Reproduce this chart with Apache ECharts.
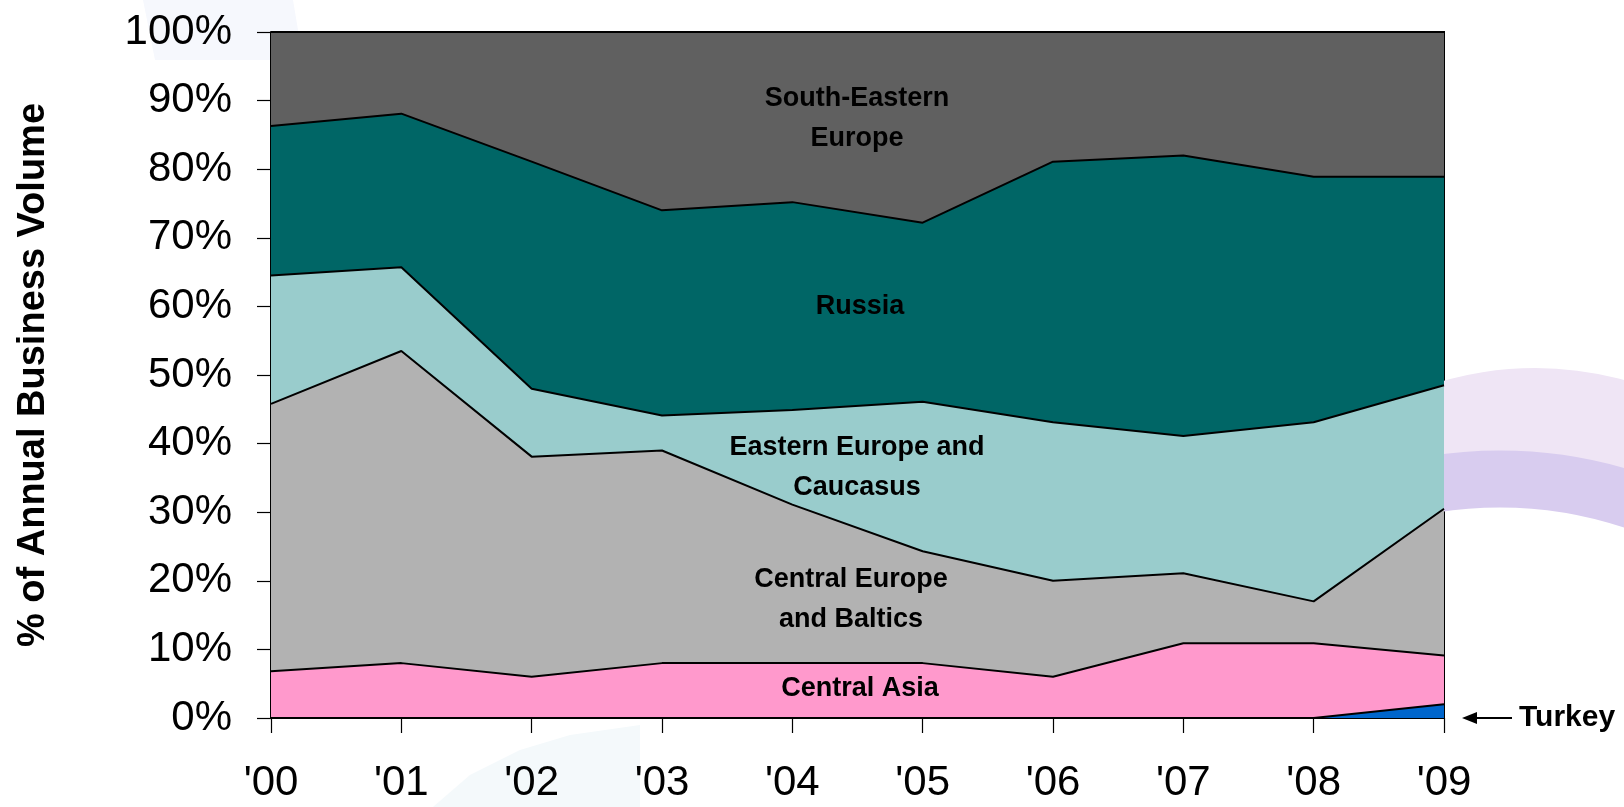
<!DOCTYPE html>
<html>
<head>
<meta charset="utf-8">
<script src="https://cdn.jsdelivr.net/npm/echarts@6/dist/echarts.min.js"></script>
<style>
  html, body { margin: 0; padding: 0; background: #fff; }
  #chart { width: 1624px; height: 807px; }
</style>
</head>
<body>
<div id="chart"></div>
<script>
// years on the x axis
const years = ["'00", "'01", "'02", "'03", "'04", "'05", "'06", "'07", "'08", "'09"];

// share of annual business volume per region, % (stacked bottom -> top)
const turkey       = [0, 0, 0, 0, 0, 0, 0, 0, 0, 2];
const centralAsia  = [6.8, 8.0, 6.0, 8.0, 8.0, 8.0, 6.0, 10.9, 10.9, 7.1];
const centralEurBal = [39.0, 45.5, 32.1, 31.0, 23.1, 16.3, 14.0, 10.2, 6.1, 21.4];
const easternEurCau = [18.7, 12.2, 9.9, 5.1, 13.8, 21.8, 23.1, 20.0, 26.1, 18.0];
const russia       = [21.8, 22.4, 33.1, 29.9, 30.3, 26.1, 38.0, 40.9, 35.8, 30.4];
const southEastEur = [13.7, 11.9, 18.9, 26.0, 24.8, 27.8, 18.9, 18.0, 21.1, 21.1];

const seriesDefs = [
  { name: 'Turkey', data: turkey, color: '#0066CC' },
  { name: 'Central Asia', data: centralAsia, color: '#FF99CC' },
  { name: 'Central Europe and Baltics', data: centralEurBal, color: '#B2B2B2' },
  { name: 'Eastern Europe and Caucasus', data: easternEurCau, color: '#99CCCC' },
  { name: 'Russia', data: russia, color: '#006666' },
  { name: 'South-Eastern Europe', data: southEastEur, color: '#606060' }
];

const chart = echarts.init(document.getElementById('chart'));

const labelFont = 'bold 27px "Liberation Sans", Arial, sans-serif';
const areaLabels = [
  { text: 'South-Eastern\nEurope', x: 857, y: 119 },
  { text: 'Russia', x: 860, y: 307 },
  { text: 'Eastern Europe and\nCaucasus', x: 857, y: 468 },
  { text: 'Central Europe\nand Baltics', x: 851, y: 600 },
  { text: 'Central Asia', x: 860, y: 689 }
];

const option = {
  backgroundColor: '#ffffff',
  animation: false,
  grid: {
    left: 271,
    right: 180,
    top: 32,
    bottom: 89,
    show: true,
    borderColor: '#000',
    borderWidth: 2,
    backgroundColor: 'transparent'
  },
  xAxis: {
    type: 'category',
    data: years,
    boundaryGap: false,
    axisLine: { lineStyle: { color: '#000', width: 2 } },
    axisTick: { show: true, inside: false, length: 15, lineStyle: { color: '#000', width: 1.2 } },
    axisLabel: {
      color: '#000',
      fontFamily: '"Liberation Sans", Arial, sans-serif',
      fontSize: 42,
      margin: 44
    },
    splitLine: { show: false }
  },
  yAxis: {
    type: 'value',
    min: 0,
    max: 100,
    interval: 10,
    name: '% of Annual Business Volume',
    nameLocation: 'middle',
    nameRotate: 90,
    nameGap: 218,
    nameTextStyle: {
      color: '#000',
      fontFamily: '"Liberation Sans", Arial, sans-serif',
      fontWeight: 'bold',
      fontSize: 38
    },
    axisLine: { show: true, lineStyle: { color: '#000', width: 2 } },
    axisTick: { show: true, inside: false, length: 14, lineStyle: { color: '#000', width: 1.2 } },
    axisLabel: {
      color: '#000',
      fontFamily: '"Liberation Sans", Arial, sans-serif',
      fontSize: 42,
      margin: 39,
      formatter: '{value}%'
    },
    splitLine: { show: false }
  },
  series: seriesDefs.map((s, i) => ({
    name: s.name,
    type: 'line',
    stack: 'total',
    data: s.data,
    symbol: 'none',
    z: 10 - i,
    lineStyle: { color: '#000', width: 2 },
    areaStyle: { color: s.color, opacity: 1 }
  })),
  graphic: [
    // faint background swooshes
    {
      type: 'polygon', z: 0, silent: true,
      shape: { points: [[143, 0], [293, 0], [303, 60], [268, 60], [155, 60]] },
      style: { fill: '#f6f8fd' }
    },
    {
      type: 'polygon', z: 0, silent: true,
      shape: { points: [[433, 807], [470, 775], [520, 750], [570, 735], [640, 725], [640, 807]] },
      style: { fill: '#f4f9fb' }
    },
    // decorative lavender arcs on the right
    {
      type: 'arc', z: 0, silent: true,
      shape: { cx: 1535, cy: 704, r: 291, startAngle: Math.PI * 1.2, endAngle: Math.PI * 1.8 },
      style: { fill: 'none', stroke: '#efe5f5', lineWidth: 90 }
    },
    {
      type: 'arc', z: 0, silent: true,
      shape: { cx: 1500, cy: 900, r: 421, startAngle: Math.PI * 1.3, endAngle: Math.PI * 1.7 },
      style: { fill: 'none', stroke: '#d8ccef', lineWidth: 57 }
    },
    // area labels
    ...areaLabels.map(l => ({
      type: 'text', z: 50, silent: true,
      x: l.x, y: l.y,
      style: {
        text: l.text,
        font: labelFont,
        fill: '#000',
        lineHeight: 40,
        textAlign: 'center',
        textVerticalAlign: 'middle'
      }
    })),
    // Turkey pointer
    {
      type: 'line', z: 50, silent: true,
      shape: { x1: 1470, y1: 718, x2: 1512, y2: 718 },
      style: { stroke: '#000', lineWidth: 2 }
    },
    {
      type: 'polygon', z: 50, silent: true,
      shape: { points: [[1462, 718], [1477, 712], [1477, 724]] },
      style: { fill: '#000' }
    },
    {
      type: 'text', z: 50, silent: true,
      x: 1519, y: 718,
      style: {
        text: 'Turkey',
        font: 'bold 30px "Liberation Sans", Arial, sans-serif',
        fill: '#000',
        textAlign: 'left',
        textVerticalAlign: 'middle'
      }
    }
  ]
};

chart.setOption(option);
</script>
</body>
</html>
